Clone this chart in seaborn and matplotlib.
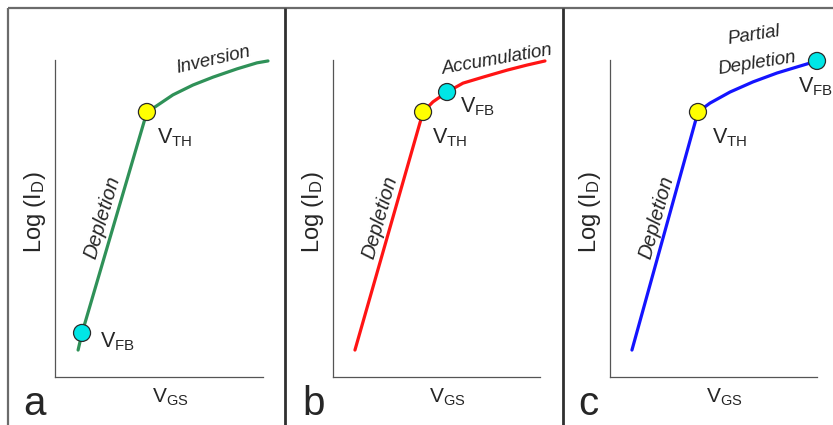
import matplotlib
matplotlib.use("Agg")
import matplotlib.pyplot as plt
from matplotlib.lines import Line2D
import seaborn as sns
import pandas as pd

# ---- data (V_GS and log(I_D) in arbitrary units, 0..10 on each axis) ----
panel_letters = ["a", "b", "c"]
curve_colors = ["#2f9158", "#ff1414", "#1414ff"]

vgs_a = [1.11, 1.30, 4.42, 4.81, 5.67, 6.63, 7.60, 8.75, 9.71, 10.24]
logid_a = [0.85, 1.39, 8.36, 8.52, 8.90, 9.21, 9.46, 9.72, 9.91, 9.97]

vgs_b = [1.06, 4.35, 4.83, 5.51, 6.28, 7.25, 8.41, 9.37, 10.24]
logid_b = [0.85, 8.36, 8.68, 8.99, 9.27, 9.46, 9.68, 9.84, 9.97]

vgs_c = [1.06, 4.25, 4.83, 5.80, 6.91, 8.07, 9.03, 10.00]
logid_c = [0.85, 8.36, 8.64, 8.99, 9.31, 9.59, 9.78, 9.97]

# threshold and flat-band voltage points (vgs, log id) per panel
vth_points = [(4.42, 8.36), (4.35, 8.36), (4.25, 8.36)]
vfb_points = [(1.30, 1.39), (5.51, 8.99), (10.00, 9.97)]

curves = [(vgs_a, logid_a), (vgs_b, logid_b), (vgs_c, logid_c)]

# ---- figure ----
W, H = 833, 425
sns.set_style("white")
plt.rcParams["font.family"] = ["Liberation Sans", "DejaVu Sans"]
plt.rcParams["mathtext.fontset"] = "custom"
plt.rcParams["mathtext.rm"] = "Liberation Sans"
plt.rcParams["mathtext.it"] = "Liberation Sans:italic"

fig = plt.figure(figsize=(W / 100, H / 100), dpi=100)
fig.patch.set_facecolor("white")


def ftext(x, y, s, **kw):
    """Place text at pixel position (x from left, y from top)."""
    return fig.text(x / W, 1 - y / H, s, **kw)


def fline(xs, ys, **kw):
    fig.add_artist(Line2D([x / W for x in xs], [1 - y / H for y in ys],
                          transform=fig.transFigure, **kw))


# panel frames
fline([8, 833], [8, 8], color="#6b6b6b", lw=1.6, solid_capstyle="butt")
fline([8, 8], [8, 425], color="#6b6b6b", lw=1.6, solid_capstyle="butt")
for xs in (285, 563):
    fline([xs, xs], [8, 425], color="#303030", lw=2.0, solid_capstyle="butt")

# axes boxes in pixels: left, right, top, bottom
boxes = [(55, 263, 60, 377), (333, 540, 60, 377), (610, 817, 60, 377)]

for i, (l, r, t, b) in enumerate(boxes):
    ax = fig.add_axes([l / W, 1 - b / H, (r - l) / W, (b - t) / H])
    ax.patch.set_alpha(0)
    ax.set_xlim(0, 10)
    ax.set_ylim(0, 10)
    ax.set_xticks([])
    ax.set_yticks([])
    for side in ("top", "right"):
        ax.spines[side].set_visible(False)
    for side in ("left", "bottom"):
        ax.spines[side].set_color("#555555")
        ax.spines[side].set_linewidth(0.9)

    xs, ys = curves[i]
    df = pd.DataFrame({"V_GS": xs, "logID": ys})
    sns.lineplot(data=df, x="V_GS", y="logID", sort=False, estimator=None,
                 color=curve_colors[i], lw=2.3, ax=ax, clip_on=False, zorder=2)

    pts = pd.DataFrame({"V_GS": [vth_points[i][0], vfb_points[i][0]],
                        "logID": [vth_points[i][1], vfb_points[i][1]],
                        "kind": ["VTH", "VFB"]})
    sns.scatterplot(data=pts, x="V_GS", y="logID", hue="kind",
                    palette={"VTH": "#ffff00", "VFB": "#00e6e6"},
                    s=150, edgecolor="#2a2a2a", linewidth=0.9, legend=False,
                    ax=ax, clip_on=False, zorder=3)
    ax.set_xlabel("")
    ax.set_ylabel("")

    cx = (l + r) / 2
    ftext(l - 20, 212, r"$\mathregular{Log\ (I_D)}$", rotation=90,
          ha="center", va="center", fontsize=17)
    ftext(cx + 11, 403, r"$\mathregular{V_{GS}}$", ha="center",
          va="baseline", fontsize=15)

# panel letters
for x, letter in zip((23, 302, 578), panel_letters):
    ftext(x, 415, letter, ha="left", va="baseline", fontsize=29)

# point labels
for x, y in ((157, 143), (432, 143), (712, 143)):
    ftext(x, y, r"$\mathregular{V_{TH}}$", ha="left", va="baseline", fontsize=15.5)
for x, y in ((100, 347), (460, 112), (798, 92)):
    ftext(x, y, r"$\mathregular{V_{FB}}$", ha="left", va="baseline", fontsize=15.5)

# region labels
for x, rot in ((102, 73.5), (380, 74), (657, 74.5)):
    ftext(x, 217, "Depletion", rotation=rot, rotation_mode="anchor",
          ha="center", va="center", fontsize=14.5, style="italic")
ftext(213, 60, "Inversion", rotation=13, rotation_mode="anchor",
      ha="center", va="center", fontsize=13.5, style="italic")
ftext(497, 60, "Accumulation", rotation=10, rotation_mode="anchor",
      ha="center", va="center", fontsize=13.5, style="italic")
ftext(754, 35, "Partial", rotation=9, rotation_mode="anchor",
      ha="center", va="center", fontsize=13.5, style="italic")
ftext(757, 63, "Depletion", rotation=9, rotation_mode="anchor",
      ha="center", va="center", fontsize=13.5, style="italic")

fig.savefig("out.png", dpi=100, facecolor="white")
